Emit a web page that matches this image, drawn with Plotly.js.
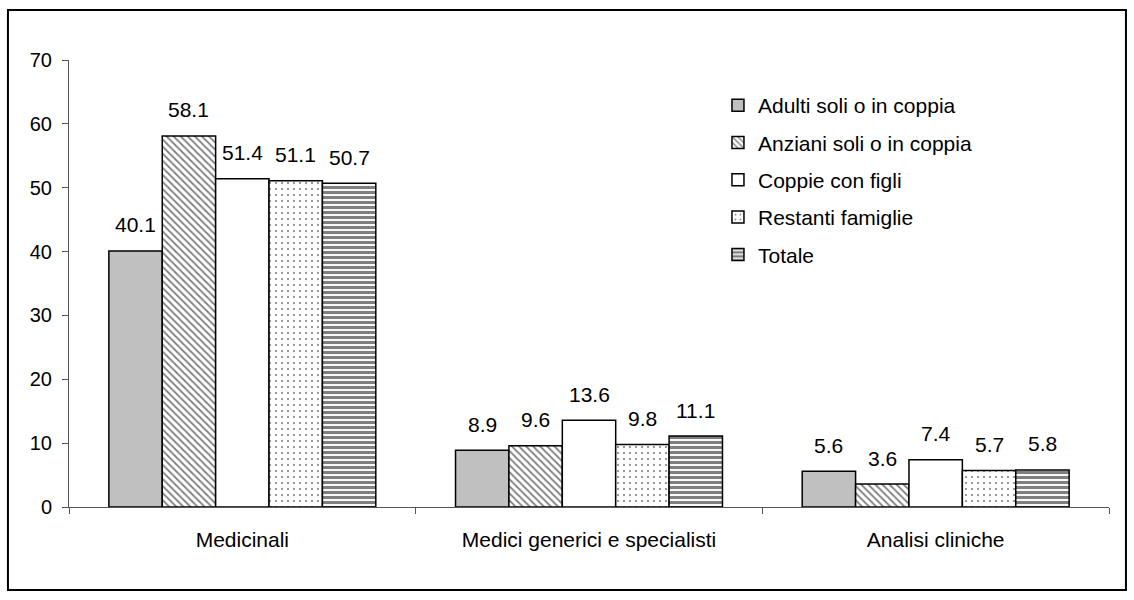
<!DOCTYPE html>
<html>
<head>
<meta charset="utf-8">
<script src="https://cdn.plot.ly/plotly-3.0.1.min.js"></script>
<style>html,body{margin:0;padding:0;background:#fff;}#chart{width:1134px;height:600px;}</style>
</head>
<body>
<div id="chart"></div>
<script>
const categories = ["Medicinali", "Medici generici e specialisti", "Analisi cliniche"];
const seriesNames = ["Adulti soli o in coppia", "Anziani soli o in coppia", "Coppie con figli", "Restanti famiglie", "Totale"];
const adulti = [40.1, 8.9, 5.6];
const anziani = [58.1, 9.6, 3.6];
const coppie = [51.4, 13.6, 7.4];
const restanti = [51.1, 9.8, 5.7];
const totale = [50.7, 11.1, 5.8];
const yTicks = [0, 10, 20, 30, 40, 50, 60, 70];

const values = [adulti, anziani, coppie, restanti, totale];
const FONT = "Liberation Sans, Arial, sans-serif";
const FS = 20;
const FS_TXT = 21;
const BARGAP = 0.23;

const styles = [
  {color: "#c0c0c0", pattern: {shape: ""}},
  {color: "#ffffff", pattern: {shape: "\\", fgcolor: "#000", bgcolor: "#fff", size: 5, solidity: 0.35, fillmode: "overlay"}},
  {color: "#ffffff", pattern: {shape: ""}},
  {color: "#ffffff", pattern: {shape: ".", fgcolor: "#000", bgcolor: "#fff", size: 6, solidity: 0.1, fillmode: "overlay"}},
  {color: "#ffffff", pattern: {shape: "-", fgcolor: "#000", bgcolor: "#fff", size: 5, solidity: 0.62, fillmode: "overlay"}}
];

const traces = seriesNames.map((name, i) => ({
  type: "bar",
  name: name,
  x: categories,
  y: values[i],
  legendgroup: "g" + i,
  hoverinfo: "skip",
  marker: {
    color: styles[i].color,
    pattern: styles[i].pattern,
    line: {color: "#000", width: 1.5}
  }
}));

// value labels above bars, positioned via category index + group offset
const nS = seriesNames.length;
const bw = (1 - BARGAP) / nS;
const annotations = [];
values.forEach((arr, j) => {
  arr.forEach((v, i) => {
    annotations.push({
      x: i + (j - (nS - 1) / 2) * bw,
      y: v,
      xref: "x", yref: "y",
      text: v.toFixed(1),
      showarrow: false,
      yanchor: "middle",
      yshift: 26,
      font: {family: FONT, size: FS_TXT, color: "#000"}
    });
  });
});

const layout = {
  width: 1134, height: 600,
  margin: {l: 69, r: 25, t: 60, b: 93},
  paper_bgcolor: "#fff", plot_bgcolor: "#fff",
  font: {family: FONT, size: FS, color: "#000"},
  barmode: "group",
  bargap: BARGAP,
  bargroupgap: 0,
  showlegend: true,
  legend: {
    x: 0.624, y: 0.944, xanchor: "left", yanchor: "top",
    bgcolor: "rgba(0,0,0,0)",
    font: {size: FS_TXT},
    traceorder: "grouped",
    tracegroupgap: 7,
    itemwidth: 30
  },
  xaxis: {
    type: "category",
    range: [-0.5, 2.5],
    showline: true, linecolor: "#555", linewidth: 1,
    ticks: "outside", tickson: "boundaries", ticklen: 6, tickcolor: "#555",
    ticklabelstandoff: 14,
    showgrid: false, zeroline: false,
    tickfont: {size: FS_TXT}
  },
  yaxis: {
    range: [0, 70],
    tickvals: yTicks,
    showline: true, linecolor: "#555", linewidth: 1,
    ticks: "outside", ticklen: 6, tickcolor: "#555",
    ticklabelstandoff: 6,
    showgrid: false, zeroline: false,
    tickfont: {size: FS}
  },
  annotations: annotations,
  shapes: [{
    type: "rect", xref: "paper", yref: "paper",
    x0: -0.0587, x1: 1.0163, y0: -0.1857, y1: 1.112,
    line: {color: "#000", width: 2}, fillcolor: "rgba(0,0,0,0)"
  }]
};

Plotly.newPlot("chart", traces, layout, {displayModeBar: false, staticPlot: true});
</script>
</body>
</html>
